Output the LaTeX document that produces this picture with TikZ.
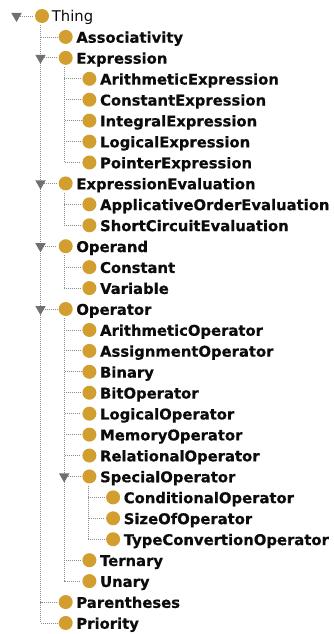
\documentclass[tikz,border=0pt]{standalone}
\usepackage{fontspec}
\setmainfont{DejaVu Sans}[BoldFeatures={FakeBold=0.6}]
\usetikzlibrary{shapes.geometric,backgrounds}
\definecolor{dotgold}{RGB}{210,158,48}
\definecolor{conngray}{RGB}{140,140,140}
\definecolor{trigray}{RGB}{112,112,112}
\definecolor{txtcol}{RGB}{12,12,12}
\tikzset{
  classdot/.style={circle, fill=dotgold, minimum size=14pt, inner sep=0pt},
  expander/.style={regular polygon, regular polygon sides=3, shape border rotate=180,
    fill=trigray, minimum size=12pt, inner sep=0pt},
  classlabel/.style={anchor=base west, inner sep=0pt, text=txtcol,
    font=\fontsize{14.8}{16}\selectfont\bfseries},
  rootlabel/.style={anchor=base west, inner sep=0pt, text=txtcol,
    font=\fontsize{14.8}{16}\selectfont},
  conn/.style={draw=conngray, line width=0.8pt, dash pattern=on 1pt off 1pt,
    shorten >=1.5pt},
  treeconn/.style={conn, shorten <=2pt}
}
\begin{document}
\begin{tikzpicture}[x=1pt,y=-1pt]
\useasboundingbox (0,0) rectangle (334,634);
% root
\node[classdot] (d-thing) at (42,16) {};
\node[rootlabel] (thing) at (51.7,21.8) {Thing};
\node[expander] (t-thing) at (16.5,16) {};
% classes
\foreach \i/\lv/\nm/\txt in {
  1/1/assoc/Associativity,
  2/1/expr/Expression,
  3/2/arithExpr/ArithmeticExpression,
  4/2/constExpr/ConstantExpression,
  5/2/intExpr/IntegralExpression,
  6/2/logExpr/LogicalExpression,
  7/2/ptrExpr/PointerExpression,
  8/1/exprEval/ExpressionEvaluation,
  9/2/applic/ApplicativeOrderEvaluation,
  10/2/shortCirc/ShortCircuitEvaluation,
  11/1/operand/Operand,
  12/2/constant/Constant,
  13/2/variable/Variable,
  14/1/operator/Operator,
  15/2/arithOp/ArithmeticOperator,
  16/2/assignOp/AssignmentOperator,
  17/2/binary/Binary,
  18/2/bitOp/BitOperator,
  19/2/logicalOp/LogicalOperator,
  20/2/memoryOp/MemoryOperator,
  21/2/relOp/RelationalOperator,
  22/2/specialOp/SpecialOperator,
  23/3/condOp/ConditionalOperator,
  24/3/sizeOfOp/SizeOfOperator,
  25/3/typeConv/TypeConvertionOperator,
  26/2/ternary/Ternary,
  27/2/unary/Unary,
  28/1/parens/Parentheses,
  29/1/priority/Priority} {
  \node[classdot] (d-\nm) at ({42+23.7*\lv},{16+20.93*\i}) {};
  \node[classlabel] (\nm) at ({52.5+23.7*\lv},{21.8+20.93*\i}) {\txt};
}
% expanders
\node[expander] (t-expr) at (40.5,{16+20.93*2}) {};
\node[expander] (t-exprEval) at (40.5,{16+20.93*8}) {};
\node[expander] (t-operand) at (40.5,{16+20.93*11}) {};
\node[expander] (t-operator) at (40.5,{16+20.93*14}) {};
\node[expander] (t-specialOp) at (64.2,{16+20.93*22}) {};
% connectors
\begin{scope}[on background layer]
  \draw[conn] (t-thing) -- (d-thing.west);
  \foreach \c in {assoc,expr,exprEval,operand,operator,parens,priority}
    \draw[treeconn] ([xshift=-1.5pt]d-thing.south) |- (d-\c.west);
  \foreach \c in {arithExpr,constExpr,intExpr,logExpr,ptrExpr}
    \draw[treeconn] ([xshift=-1.5pt]d-expr.south) |- (d-\c.west);
  \foreach \c in {applic,shortCirc}
    \draw[treeconn] ([xshift=-1.5pt]d-exprEval.south) |- (d-\c.west);
  \foreach \c in {constant,variable}
    \draw[treeconn] ([xshift=-1.5pt]d-operand.south) |- (d-\c.west);
  \foreach \c in {arithOp,assignOp,binary,bitOp,logicalOp,memoryOp,relOp,specialOp,ternary,unary}
    \draw[treeconn] ([xshift=-1.5pt]d-operator.south) |- (d-\c.west);
  \foreach \c in {condOp,sizeOfOp,typeConv}
    \draw[treeconn] ([xshift=-1.5pt]d-specialOp.south) |- (d-\c.west);
\end{scope}
\end{tikzpicture}
\end{document}
